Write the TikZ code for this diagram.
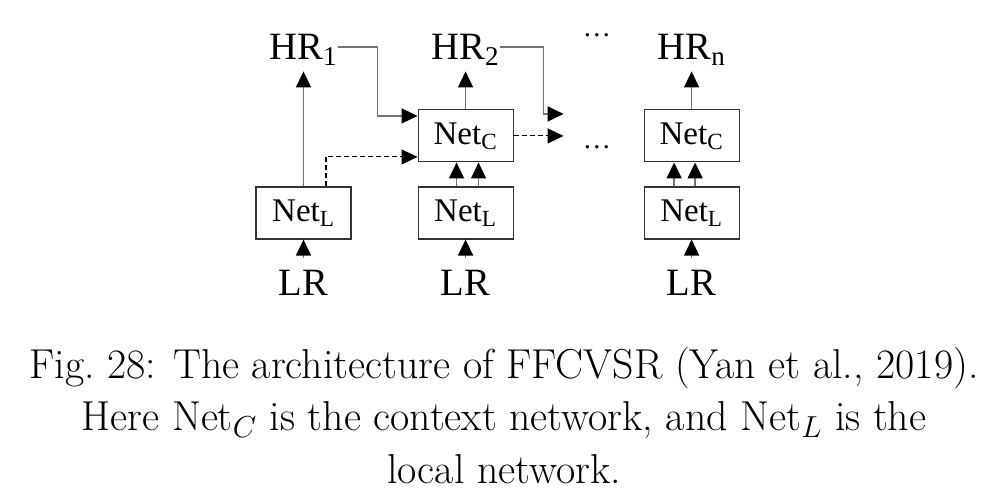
\documentclass[tikz,border=0pt]{standalone}
\usepackage{fontspec}
\newfontfamily\diagfont{Liberation Serif}
\usepackage{tikz}
\usetikzlibrary{arrows.meta, positioning}

\begin{document}
\begin{tikzpicture}[
            netbox/.style={
            draw=black!80,
            line width=0.6pt,
            minimum width=19mm,
            minimum height=10.4mm,
            inner sep=0pt,
            font=\diagfont\fontsize{18.8}{18.8}\selectfont},
            lbl/.style={
            inner xsep=0pt,
            inner ysep=2.3mm,
            text height=14.6pt,
            text depth=0pt,
            font=\diagfont\fontsize{22}{22}\selectfont},
            dts/.style={inner sep=0pt, anchor=base, font=\diagfont\fontsize{16}{16}\selectfont},
            link/.style={draw=black!55, line width=0.9pt},
            dlink/.style={draw=black, line width=0.6pt, dash pattern=on 1mm off 0.6mm},
            >={Triangle[length=3.2mm, width=3mm, color=black]}]
            \useasboundingbox (-60.7mm,-57.6mm) rectangle (137.1mm,42.6mm);
            % boxes
            \node[netbox] (l1) at (0,0) {Net\textsubscript{L}};
            \node[netbox, right=13.2mm of l1] (l2) {Net\textsubscript{L}};
            \node[netbox, right=26mm of l2] (ln) {Net\textsubscript{L}};
            \node[netbox, above=4.8mm of l2] (c1) {Net\textsubscript{C}};
            \node[netbox, above=4.8mm of ln] (cn) {Net\textsubscript{C}};
            % labels
            \node[lbl, above=7.6mm of c1] (hr2) {HR\textsubscript{2}};
            \node[lbl, above=7.6mm of cn] (hrn) {HR\textsubscript{n}};
            \node[lbl] (hr1) at (l1 |- hr2) {HR\textsubscript{1}};
            \node[lbl, below=3.6mm of l1] (lr1) {LR};
            \node[lbl, below=3.6mm of l2] (lr2) {LR};
            \node[lbl, below=3.6mm of ln] (lrn) {LR};
            \node[dts] (d1) at (58.7mm,35.3mm) {\ldots};
            \node[dts] (d2) at (58.7mm,12.9mm) {\ldots};
            \coordinate (nh) at ([xshift=10mm, yshift=4.4mm]c1.east);
            \coordinate[right=10mm of c1.east] (nd);
            % connectors
            \draw[link, ->] (lr1) -- (l1);
            \draw[link, ->] (lr2) -- (l2);
            \draw[link, ->] (lrn) -- (ln);
            \draw[link, ->] (l1) -- (hr1);
            \draw[link, ->] (c1) -- (hr2);
            \draw[link, ->] (cn) -- (hrn);
            \draw[link, ->] ([xshift=-1.8mm]l2.north) -- ([xshift=-1.8mm]c1.south);
            \draw[link, ->] ([xshift=2.6mm]l2.north) -- ([xshift=2.6mm]c1.south);
            \draw[link, ->] ([xshift=-3.5mm]ln.north) -- ([xshift=-3.5mm]cn.south);
            \draw[link, ->] ([xshift=0.7mm]ln.north) -- ([xshift=0.7mm]cn.south);
            \draw[link, ->] (hr1.east) -| ([xshift=-8mm, yshift=4mm]c1.west) -- ([yshift=4mm]c1.west);
            \draw[dlink, ->] ([xshift=4.5mm]l1.north) |- ([yshift=-4.2mm]c1.west);
            \draw[link, ->] (hr2.east) -| ([xshift=-4mm]nh) -- (nh);
            \draw[dlink, ->] (c1.east) -- (nd);
            % caption
            \node[anchor=base, align=center, inner sep=0pt, font=\fontsize{23.8}{29.8}\selectfont] (cap) at (40.1mm,-54mm)
            {Fig.~28: The architecture of FFCVSR (Yan et al., 2019).\\
            Here Net$_C$ is the context network, and Net$_L$ is the\\
            local network.};
        \end{tikzpicture}
\end{document}
